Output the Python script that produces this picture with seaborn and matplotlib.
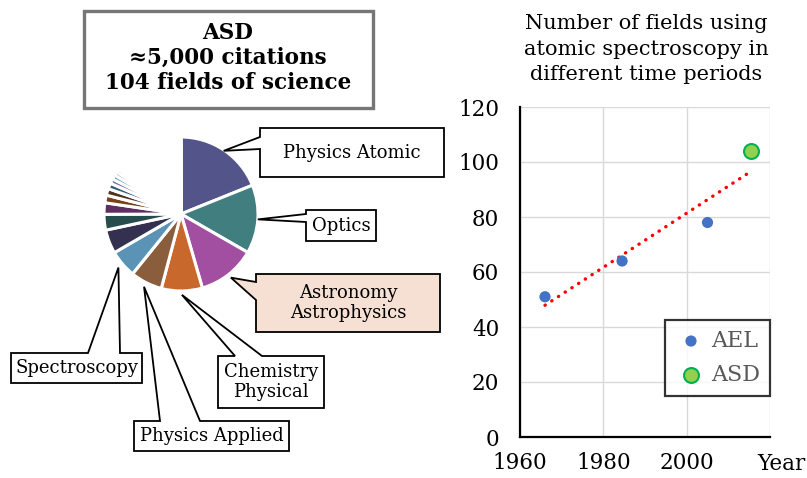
import matplotlib
matplotlib.use("Agg")
import numpy as np
import pandas as pd
import matplotlib.pyplot as plt
import seaborn as sns
from matplotlib.patches import Polygon, Rectangle

# -------------------------------
# Data
# -------------------------------
# share of ASD citations (%) by field, clockwise from 12 o'clock
field_names = ["Physics Atomic", "Optics", "Astronomy\nAstrophysics",
               "Chemistry\nPhysical", "Physics Applied", "Spectroscopy", "", ""]
field_share = [18.9, 14.4, 12.2, 8.6, 6.7, 5.8, 5.0, 3.3]
# the remaining (small) fields
other_share = [2.4, 1.6, 1.4, 1.2, 1.0, 0.9, 0.8, 0.7, 0.6, 0.5,
               0.45, 0.45, 0.4, 0.4, 0.4, 0.35, 0.35, 0.35, 0.35, 0.3,
               0.3, 0.3, 0.3, 0.3, 0.3, 0.25, 0.25, 0.25, 0.25, 0.25,
               0.25, 0.25, 0.2, 0.2, 0.2, 0.2, 0.2, 0.2, 0.2, 0.2,
               0.15, 0.15, 0.15, 0.15, 0.15, 0.15, 0.15, 0.15, 0.15, 0.15,
               0.12, 0.12, 0.12, 0.12, 0.12, 0.12, 0.12, 0.12, 0.12, 0.12,
               0.1, 0.1, 0.1, 0.1, 0.1, 0.1, 0.1, 0.1, 0.1, 0.1,
               0.08, 0.08, 0.08, 0.08, 0.08, 0.08, 0.08, 0.08, 0.08, 0.08,
               0.05, 0.05, 0.05, 0.05, 0.05, 0.05, 0.05, 0.05,
               0.05, 0.05, 0.05, 0.05, 0.05, 0.05, 0.05, 0.05]

# number of fields using atomic spectroscopy
ael_years = [1966, 1984.5, 2005]
ael_fields = [51, 64, 78]
asd_years = [2015.5]
asd_fields = [104]

xticks = [1960, 1980, 2000, 2020]
xtick_labels = ["1960", "1980", "2000", ""]
yticks = [0, 20, 40, 60, 80, 100, 120]

# -------------------------------
# Style
# -------------------------------
sns.set_theme(style="white")
plt.rcParams['font.family'] = ['DejaVu Serif', 'DejaVu Sans']
plt.rcParams['text.color'] = 'black'
plt.rcParams['xtick.color'] = 'black'
plt.rcParams['ytick.color'] = 'black'

palette = ["#53548A", "#417E80", "#A24EA1", "#C8682D", "#8A5D3C", "#5B93B7",
           "#33314F", "#264C4C", "#5F2E62", "#7A4119", "#4F3520", "#2E5E7A",
           "#6E6DB2", "#45A3A6", "#C585CD", "#EBA57A", "#CFAE92", "#9EC2DC",
           "#A7A6CF", "#9FD0D1", "#E2C2E2", "#F6D2BC", "#E6D5C8", "#D2E3EF"]

W, H = 807, 478
fig = plt.figure(figsize=(W / 100, H / 100), dpi=100)

# -------------------------------
# Left: pie with callouts (pixel coordinates, y up)
# -------------------------------
axp = fig.add_axes([0, 0, 1, 1])
cx, cy, R = 181, 214, 77

shares = field_share + other_share
colors = [palette[i % len(palette)] for i in range(len(shares))]
wedges, _ = axp.pie(shares, colors=colors, startangle=90, counterclock=False,
                    radius=R, center=(cx, H - cy),
                    wedgeprops=dict(edgecolor="white", linewidth=2.2))
axp.set_xlim(0, W)
axp.set_ylim(0, H)
axp.set_aspect("auto")
axp.axis("off")


def up(p):
    return (p[0], H - p[1])


def callout(idx, box, side, base, r_tip, face="white"):
    w = wedges[idx]
    th = np.deg2rad((w.theta1 + w.theta2) / 2)
    tip = (cx + r_tip * R * np.cos(th), cy - r_tip * R * np.sin(th))
    x0, y0, x1, y1 = box
    if side == "left":
        pts = [(x0, y0), (x1, y0), (x1, y1), (x0, y1), (x0, base[1]), tip, (x0, base[0])]
    else:
        pts = [(x0, y0), (base[0], y0), tip, (base[1], y0), (x1, y0), (x1, y1), (x0, y1)]
    axp.add_patch(Polygon([up(p) for p in pts], closed=True, facecolor=face,
                          edgecolor="black", linewidth=1.3, zorder=5))
    axp.text((x0 + x1) / 2, H - (y0 + y1) / 2, field_names[idx], ha="center",
             va="center", fontsize=13, color="black", linespacing=1.1, zorder=6)


callout(0, (260, 128, 444, 177), "left", (137, 149), 0.99)
callout(1, (306, 210, 376, 241), "left", (214, 222), 1.0)
callout(2, (256, 274, 440, 332), "left", (282, 300), 1.05, face="#F6E0D4")
callout(3, (218, 356, 324, 408), "top", (235, 262), 1.05)
callout(4, (134, 421, 289, 451), "top", (160, 200), 1.06)
callout(5, (11, 353, 142, 383), "top", (88, 120), 1.07)

axp.add_patch(Rectangle(up((84, 108)), 289, 97, facecolor="white",
                        edgecolor="#767676", linewidth=2.4, zorder=5))
axp.text(228, H - 58, "ASD\n\u22485,000 citations\n104 fields of science",
         ha="center", va="center", fontsize=15.5, fontweight="bold",
         linespacing=1.15, zorder=6)

# -------------------------------
# Right: fields vs year
# -------------------------------
ax = fig.add_axes([520 / W, (H - 437) / H, 250 / W, 330 / H])
all_years = ael_years + asd_years
all_fields = ael_fields + asd_fields
sns.regplot(x=all_years, y=all_fields, ax=ax, scatter=False, ci=None,
            color="#FF0000",
            line_kws=dict(linewidth=2.4, linestyle=(0, (0.1, 2.3)),
                          dash_capstyle="round"))
sns.scatterplot(x=ael_years, y=ael_fields, ax=ax, color="#4472C4", s=65,
                edgecolor="none", label="AEL", zorder=4)
sns.scatterplot(x=asd_years, y=asd_fields, ax=ax, color="#92D050", s=115,
                edgecolor="#00B050", linewidth=1.5, label="ASD", zorder=4)

ax.set_xlim(1960, 2020)
ax.set_ylim(0, 120)
ax.set_xticks(xticks)
ax.set_xticklabels(xtick_labels)
ax.set_yticks(yticks)
ax.grid(True, color="#D9D9D9", linewidth=1.0)
ax.set_axisbelow(True)
for s in ["top", "right"]:
    ax.spines[s].set_visible(False)
for s in ["left", "bottom"]:
    ax.spines[s].set_color("black")
    ax.spines[s].set_linewidth(1.6)
ax.tick_params(direction="in", length=5, width=1.5, colors="black",
               labelsize=15.5, pad=15)
ax.tick_params(axis="x", pad=11)
ax.set_xlabel("")
ax.set_ylabel("")

leg = ax.legend(loc="lower right", bbox_to_anchor=(1.0, 0.124), frameon=True,
                fancybox=False, edgecolor="black", fontsize=16,
                labelcolor="#595959", handletextpad=0.2, borderpad=0.45,
                labelspacing=0.55, handlelength=1.4, borderaxespad=0)
leg.get_frame().set_linewidth(1.6)

fig.text(646 / W, 1 - 14 / H,
         "Number of fields using\natomic spectroscopy in\ndifferent time periods",
         ha="center", va="top", fontsize=15, linespacing=1.45)
fig.text(781 / W, 1 - 464 / H, "Year", ha="center", va="center", fontsize=15.5)

fig.savefig("out.png", dpi=100)
